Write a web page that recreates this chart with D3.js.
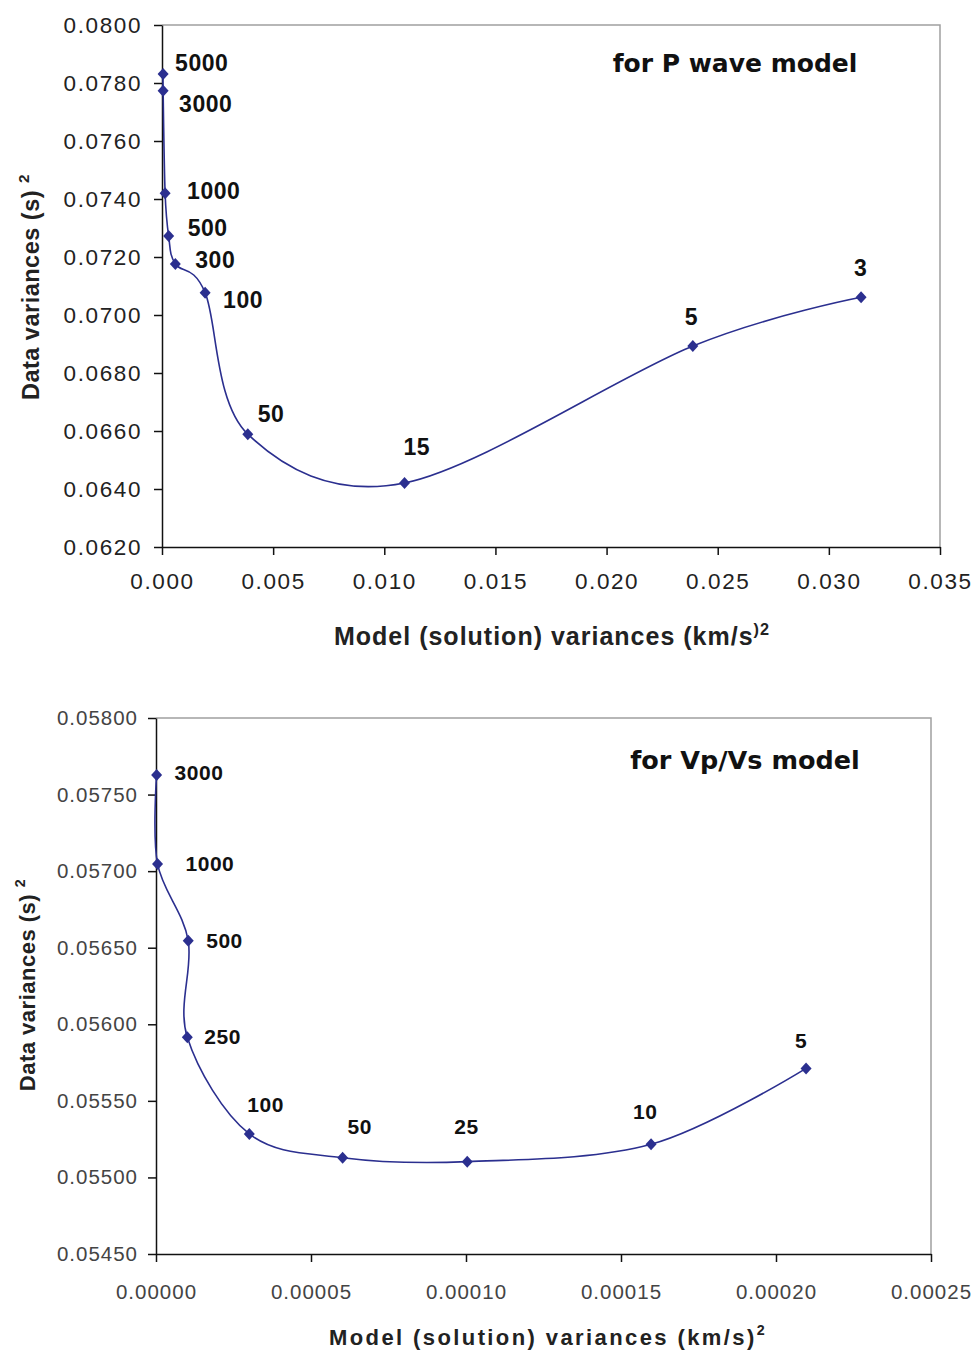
<!DOCTYPE html>
<html>
<head>
<meta charset="utf-8">
<script src="https://cdn.jsdelivr.net/npm/d3@7/dist/d3.min.js"></script>
<style>
  body { margin: 0; background: #fff; }
  svg { display: block; }
</style>
</head>
<body>
<svg id="plotarea" width="977" height="1353"></svg>
<script>
// P wave model: damping value, model variance, data variance
var pLabels = ["5000", "3000", "1000", "500", "300", "100", "50", "15", "5", "3"];
var pModelVar = [0.00005, 0.00005, 0.00014, 0.0003, 0.0006, 0.00194, 0.00386, 0.01091, 0.02388, 0.03145];
var pDataVar = [0.07831, 0.07773, 0.07420, 0.07272, 0.07176, 0.07077, 0.06589, 0.06421, 0.06893, 0.07061];
var pXTicks = [0, 0.005, 0.010, 0.015, 0.020, 0.025, 0.030, 0.035];
var pYTicks = [0.062, 0.064, 0.066, 0.068, 0.070, 0.072, 0.074, 0.076, 0.078, 0.080];

// Vp/Vs model
var vLabels = ["3000", "1000", "500", "250", "100", "50", "25", "10", "5"];
var vModelVar = [0.0000002, 0.0000005, 0.0000104, 0.0000101, 0.0000301, 0.0000602, 0.0001004, 0.0001597, 0.0002097];
var vDataVar = [0.057628, 0.057047, 0.056546, 0.055915, 0.055284, 0.055129, 0.055103, 0.055216, 0.055712];
var vXTicks = [0, 0.00005, 0.00010, 0.00015, 0.00020, 0.00025];
var vYTicks = [0.0545, 0.0550, 0.0555, 0.0560, 0.0565, 0.0570, 0.0575, 0.0580];

var svg = d3.select("#plotarea");

function drawChart(opt) {
    var x = d3.scaleLinear().domain(d3.extent(opt.xTicks)).range([opt.left, opt.right]);
    var y = d3.scaleLinear().domain(d3.extent(opt.yTicks)).range([opt.bottom, opt.top]);
    var g = svg.append("g");

    // gray frame on top and right
    g.append("path")
        .attr("d", "M" + opt.left + "," + opt.top + "H" + opt.right + "V" + opt.bottom)
        .attr("fill", "none")
        .attr("stroke", "#a0a0a0")
        .attr("stroke-width", 1.5);

    var yAxis = g.append("g")
        .attr("transform", "translate(" + opt.left + ",0)")
        .call(d3.axisLeft(y).tickValues(opt.yTicks).tickFormat(d3.format(opt.yFmt))
            .tickSize(8).tickSizeOuter(0).tickPadding(opt.yPad));
    var xAxis = g.append("g")
        .attr("transform", "translate(0," + opt.bottom + ")")
        .call(d3.axisBottom(x).tickValues(opt.xTicks).tickFormat(d3.format(opt.xFmt))
            .tickSize(8).tickSizeOuter(0).tickPadding(opt.xPad));

    [yAxis, xAxis].forEach(function (a) {
        a.selectAll("path, line").attr("stroke", "#111").attr("stroke-width", 1.5);
        a.selectAll("text")
            .attr("font-family", "'Liberation Sans', Arial, sans-serif")
            .attr("font-size", opt.tickSize)
            .attr("letter-spacing", opt.tickSpacing)
            .attr("fill", opt.tickColor);
    });

    var pts = opt.xs.map(function (d, i) { return [x(d), y(opt.ys[i])]; });

    g.append("path")
        .attr("d", d3.line().curve(d3.curveCardinal.tension(0))(pts))
        .attr("fill", "none")
        .attr("stroke", "#2b2f8f")
        .attr("stroke-width", 1.6);

    g.selectAll(".pt")
        .data(pts)
        .enter()
        .append("path")
        .attr("class", "pt")
        .attr("transform", function (p) { return "translate(" + p[0] + "," + p[1] + ")"; })
        .attr("d", "M0,-6L5.5,0L0,6L-5.5,0Z")
        .attr("fill", "#2b2f8f");

    g.selectAll(".lbl")
        .data(pts)
        .enter()
        .append("text")
        .attr("class", "lbl")
        .attr("x", function (p, i) { return p[0] + opt.labelOff[i][0]; })
        .attr("y", function (p, i) { return p[1] + opt.labelOff[i][1]; })
        .attr("dominant-baseline", "central")
        .attr("font-family", "'Liberation Sans', Arial, sans-serif")
        .attr("font-weight", "bold")
        .attr("font-size", opt.labelSize)
        .attr("letter-spacing", 0.5)
        .attr("fill", "#111")
        .text(function (p, i) { return opt.labels[i]; });

    // chart title inside the plot
    g.append("text")
        .attr("x", opt.titleX)
        .attr("y", opt.titleY)
        .attr("text-anchor", "middle")
        .attr("dominant-baseline", "central")
        .attr("font-family", "'DejaVu Sans', Verdana, sans-serif")
        .attr("font-weight", "bold")
        .attr("font-size", opt.titleSize)
        .attr("fill", "#111")
        .text(opt.title);

    // y axis title
    var yt = g.append("text")
        .attr("transform", "translate(" + opt.yTitleX + "," + opt.yTitleY + ") rotate(-90)")
        .attr("text-anchor", "middle")
        .attr("font-family", "'Liberation Sans', Arial, sans-serif")
        .attr("font-weight", "bold")
        .attr("font-size", opt.yTitleSize)
        .attr("letter-spacing", 0.5)
        .attr("fill", "#222");
    yt.append("tspan").text("Data variances (s) ");
    yt.append("tspan").attr("dy", -10).attr("font-size", opt.yTitleSize * 0.65).text("2");

    // x axis title
    var xt = g.append("text")
        .attr("x", opt.xTitleX)
        .attr("y", opt.xTitleY)
        .attr("text-anchor", "middle")
        .attr("font-family", "'Liberation Sans', Arial, sans-serif")
        .attr("font-weight", "bold")
        .attr("font-size", opt.xTitleSize)
        .attr("letter-spacing", opt.xTitleSpacing)
        .attr("fill", "#222");
    xt.append("tspan").text(opt.xTitleMain);
    xt.append("tspan").attr("dy", -10).attr("font-size", opt.xTitleSize * 0.65).text(opt.xTitleSup);
}

drawChart({
    xs: pModelVar, ys: pDataVar, labels: pLabels,
    xTicks: pXTicks, yTicks: pYTicks, xFmt: ".3f", yFmt: ".4f",
    left: 162, right: 940, top: 25, bottom: 547,
    yPad: 12, xPad: 18, tickSize: 22.5, tickSpacing: 1.6, tickColor: "#222",
    labelSize: 23,
    labelOff: [[12, -11], [16, 13], [22, -2], [19, -8], [20, -4], [18, 7], [10, -20], [-1, -36], [-8, -29], [-7, -29]],
    title: "for P wave model", titleX: 735, titleY: 63, titleSize: 25,
    yTitleX: 39, yTitleY: 287, yTitleSize: 23.5,
    xTitleX: 552, xTitleY: 645, xTitleSize: 25, xTitleSpacing: 1,
    xTitleMain: "Model (solution) variances (km/s", xTitleSup: ")2"
});

drawChart({
    xs: vModelVar, ys: vDataVar, labels: vLabels,
    xTicks: vXTicks, yTicks: vYTicks, xFmt: ".5f", yFmt: ".5f",
    left: 156, right: 931, top: 718, bottom: 1254,
    yPad: 10, xPad: 22, tickSize: 20.5, tickSpacing: 1, tickColor: "#444",
    labelSize: 21,
    labelOff: [[18, -2], [28, 0], [18, 0], [17, -1], [-2, -29], [5, -31], [-13, -35], [-18, -33], [-11, -28]],
    title: "for Vp/Vs model", titleX: 745, titleY: 760, titleSize: 25.5,
    yTitleX: 35, yTitleY: 985, yTitleSize: 22,
    xTitleX: 548, xTitleY: 1345, xTitleSize: 22, xTitleSpacing: 2.4,
    xTitleMain: "Model (solution) variances (km/s)", xTitleSup: "2"
});
</script>
</body>
</html>
